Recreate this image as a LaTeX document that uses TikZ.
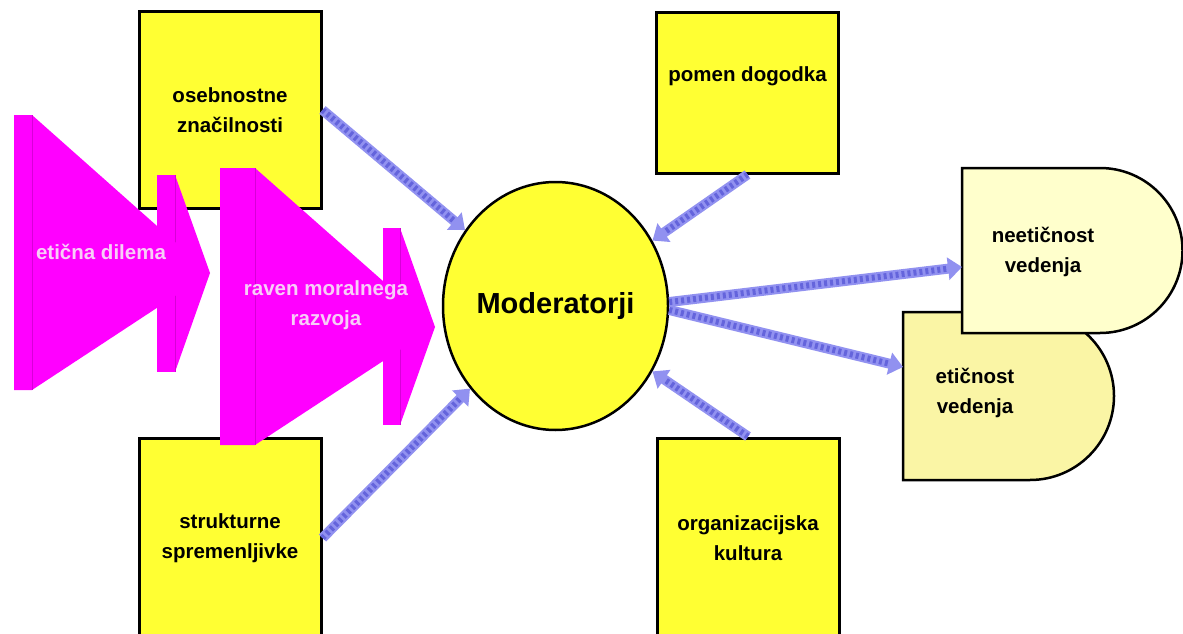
\documentclass[tikz,border=0pt]{standalone}
\usepackage{fontspec}
\setmainfont{Liberation Sans}
\usetikzlibrary{arrows.meta,shapes.geometric}
\definecolor{rumena}{RGB}{255,255,51}
\definecolor{svetlarumena}{RGB}{255,255,204}
\definecolor{blederumena}{RGB}{250,245,165}
\definecolor{skrlat}{RGB}{255,0,255}
\definecolor{temnoskrlat}{RGB}{215,0,215}
\definecolor{roza}{RGB}{248,205,248}
\definecolor{modra}{RGB}{145,145,240}
\definecolor{temnomodra}{RGB}{100,100,220}

\tikzset{
  kvadrat/.style={draw=black, line width=3pt, fill=rumena, minimum width=182pt, inner sep=0pt,
    align=center, font=\fontsize{20.5}{30}\selectfont\bfseries},
  moder/.style={ellipse, draw=black, line width=2.5pt, fill=rumena, minimum width=225pt,
    minimum height=248pt, inner sep=0pt, font=\fontsize{29}{34}\selectfont\bfseries},
  napis/.style={align=center, font=\fontsize{20.5}{30}\selectfont\bfseries},
  belo/.style={napis, text=roza},
  dlik/.style={draw=black, line width=2.5pt},
  strzala/.style={line width=10pt, draw=modra, -{Triangle[length=14pt,width=22pt]},
    postaction={draw=temnomodra, line width=6pt, dash pattern=on 3pt off 3pt, arrows=-, shorten >=14pt}}
}

\begin{document}
\begin{tikzpicture}[x=1pt, y=1pt]
  \useasboundingbox[fill=white] (0,0) rectangle (1183,-634);

  % Factor boxes
  \node[kvadrat, minimum height=196pt] (osebn) at (230,-110) {osebnostne\\značilnosti};
  \node[kvadrat, minimum height=200pt] (strukt) at (230,-538) {strukturne\\spremenljivke};
  \node[kvadrat, minimum height=160pt, text depth=38pt] (pomen) at (747.5,-93) {pomen dogodka};
  \node[kvadrat, minimum height=200pt] (orgk) at (748,-538) {organizacijska\\kultura};

  % Magenta arrow: eticna dilema (stub behind, main wedge on top)
  \fill[skrlat] (157,-175) rectangle (175,-372);
  \fill[skrlat] (175,-175) -- (210,-273) -- (175,-372) -- cycle;
  \draw[temnoskrlat, line width=0.8pt] (175,-175) -- (175,-372);
  \fill[skrlat] (14,-115) -- (32,-115) -- (210,-273) -- (32,-390) -- (14,-390) -- cycle;
  \draw[temnoskrlat, line width=0.8pt] (32,-115) -- (32,-390);

  % Magenta arrow: raven moralnega razvoja
  \fill[skrlat] (383,-228) rectangle (400,-425);
  \fill[skrlat] (400,-228) -- (435,-327) -- (400,-425) -- cycle;
  \draw[temnoskrlat, line width=0.8pt] (400,-228) -- (400,-425);
  \fill[skrlat] (220,-168) -- (255,-168) -- (435,-327) -- (255,-445) -- (220,-445) -- cycle;
  \draw[temnoskrlat, line width=0.8pt] (255,-168) -- (255,-445);

  \node[belo] (dilema) at (101,-252) {etična dilema};
  \node[belo] (raven) at (326,-305) {raven moralnega\\razvoja};

  % Moderators
  \node[moder] (mod) at (555.5,-306) {Moderatorji};

  % Outcome shapes (lower one first)
  \draw[dlik, fill=blederumena] (903,-312) -- (1030,-312) arc[start angle=90, end angle=-90, radius=84pt]
    -- (903,-480) -- cycle;
  \draw[dlik, fill=svetlarumena] (962,-168) -- (1100,-168) arc[start angle=90, end angle=-90, radius=82.5pt]
    -- (962,-333) -- cycle;
  \node[napis] (neet) at (1043,-252) {neetičnost\\vedenja};
  \node[napis] (etic) at (975,-393) {etičnost\\vedenja};
  \coordinate (neetvhod) at (962,-267);
  \coordinate (eticvhod) at (903,-367);

  % Influence arrows
  \draw[strzala] (osebn.east) -- (mod.140);
  \draw[strzala] (strukt.east) -- (mod.224);
  \draw[strzala] (pomen.south) -- (mod.34);
  \draw[strzala] (orgk.north) -- (mod.-34);
  \draw[strzala] (mod.2) -- (neetvhod);
  \draw[strzala] (mod.-2) -- (eticvhod);

\end{tikzpicture}
\end{document}
